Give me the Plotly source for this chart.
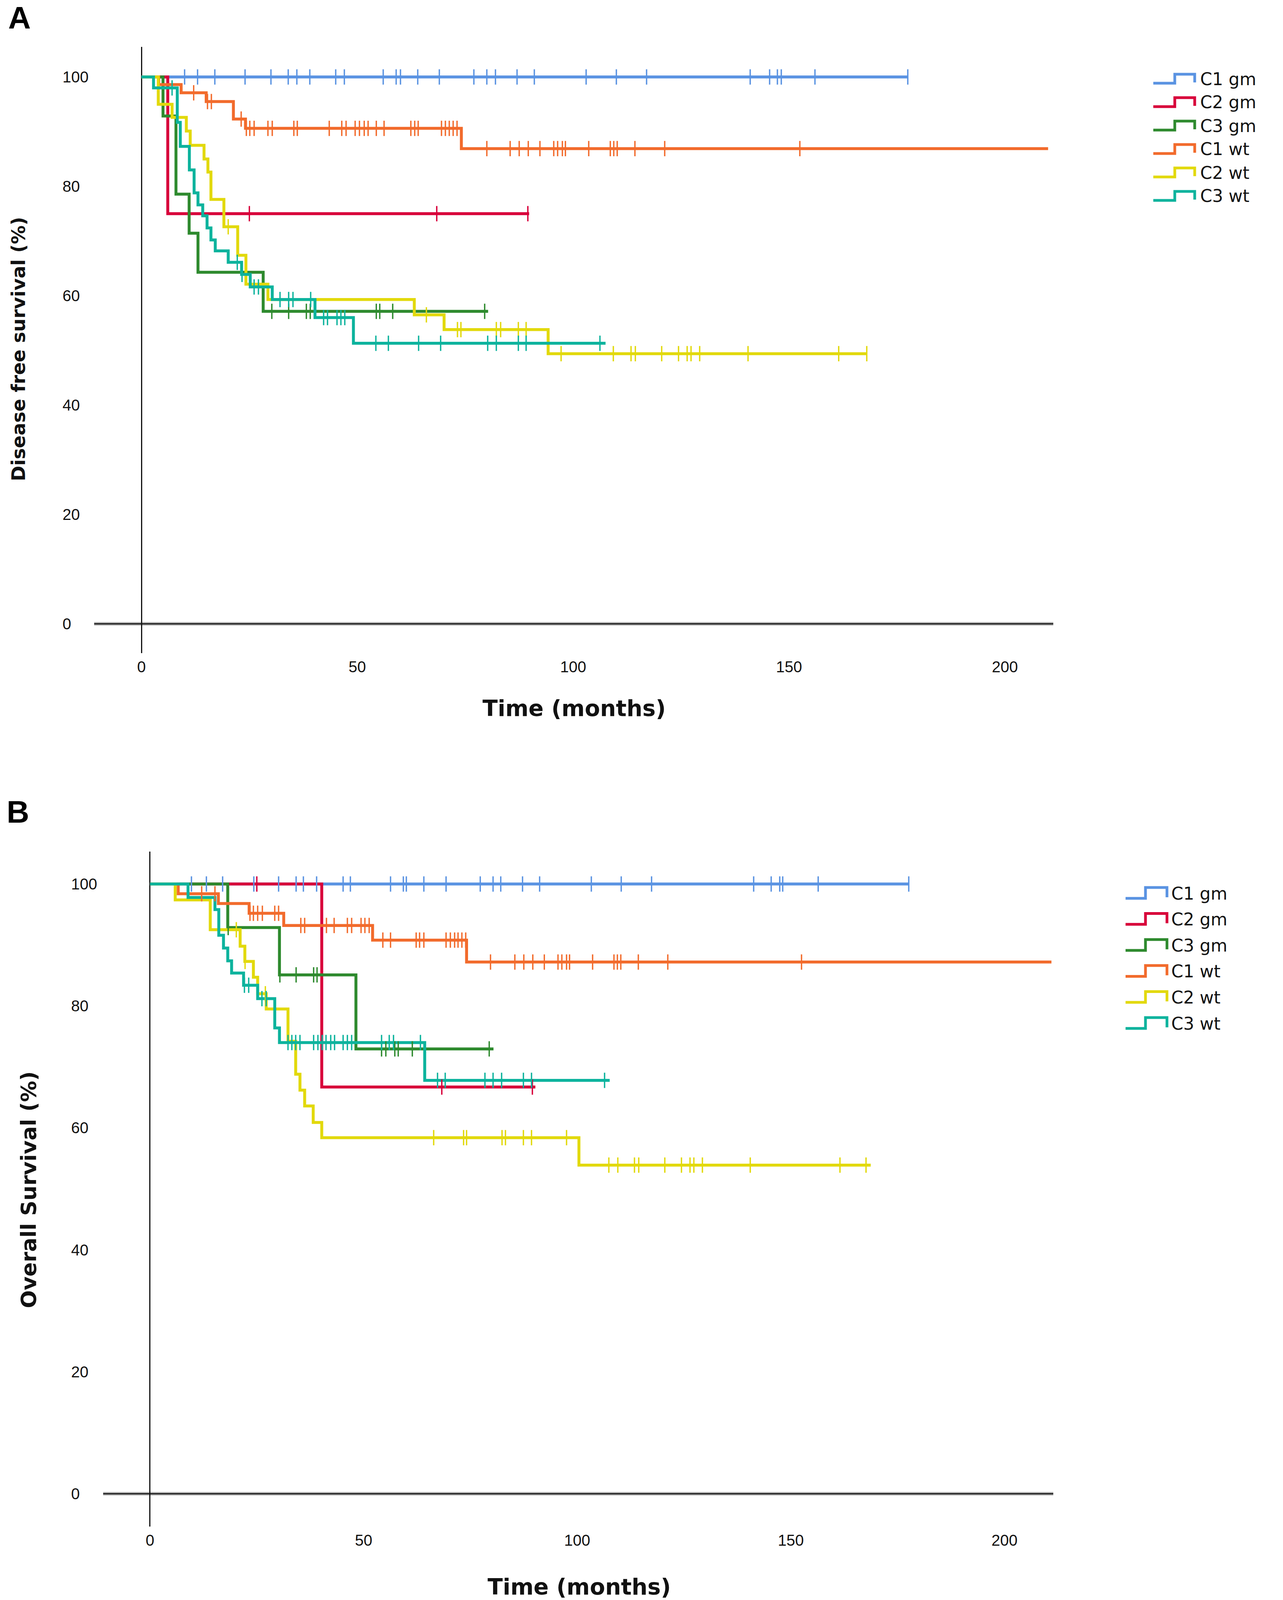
import numpy as np
import plotly.graph_objects as go

W, H = 3284, 4103

# ---------------- data ----------------
series_names = ["C1 gm", "C2 gm", "C3 gm", "C1 wt", "C2 wt", "C3 wt"]
series_colors = ["#5a93e2", "#d8003a", "#2e8a2e", "#f26b2c", "#e2d90c", "#0db39d"]

x_tick_vals = [0, 50, 100, 150, 200]
x_tick_text = ["0", "50", "100", "150", "200"]
y_tick_vals = [0, 20, 40, 60, 80, 100]
y_tick_text = ["0", "20", "40", "60", "80", "100"]

# Panel A - disease free survival (step times, survival %, censor times)
dfs_c1gm_t = [0, 177.5]
dfs_c1gm_s = [100, 100]
dfs_c1gm_c = [10, 13, 17, 24, 30, 34, 36, 39, 45, 47, 56, 59, 60, 64, 69, 77, 80, 82,
              87, 91, 103, 110, 117, 141, 145.5, 147.3, 148.2, 156, 177.5]

dfs_c2gm_t = [0, 6.1, 89.8]
dfs_c2gm_s = [100, 75, 75]
dfs_c2gm_c = [25, 68.4, 89.5]

dfs_c3gm_t = [0, 5.0, 8.0, 11.05, 13.1, 28.2, 80.3]
dfs_c3gm_s = [100, 92.86, 78.57, 71.43, 64.29, 57.14, 57.14]
dfs_c3gm_c = [30.2, 34.1, 38.2, 39.1, 54.4, 55.2, 58.2, 79.5]

dfs_c1wt_t = [0, 4.0, 9.2, 15.0, 21.3, 24.1, 74.1, 210]
dfs_c1wt_s = [100, 98.6, 97.1, 95.5, 92.3, 90.6, 86.9, 86.9]
dfs_c1wt_c = [12.1, 15.3, 16.2, 23.1, 24.3, 25.1, 26.1, 29.3, 30.3, 35.3, 36.1, 43.5, 46.4,
              47.4, 49.5, 50.5, 51.6, 52.5, 54.4, 56.2, 62.4, 63.3, 64.1, 69.5, 70.4, 71.3,
              72.2, 73.1, 80.0, 85.4, 87.5, 89.6, 92.3, 95.5, 96.4, 97.5, 98.2, 103.6,
              108.6, 109.4, 110.2, 114.3, 121.2, 152.5]

dfs_c2wt_t = [0, 3.9, 7.1, 10.4, 11.3, 14.5, 15.4, 16.1, 19.1, 22.3, 24.2, 29.3, 63.2,
              70.1, 94.2, 168.1]
dfs_c2wt_s = [100, 95.0, 92.6, 90.1, 87.5, 85.0, 82.6, 77.6, 72.6, 67.4, 62.1, 59.3, 56.5,
              53.8, 49.4, 49.4]
dfs_c2wt_c = [20.1, 66.0, 73.2, 74.0, 82.2, 83.2, 87.3, 89.1, 97.2, 109.3, 113.4, 114.4,
              120.5, 124.4, 126.4, 127.3, 129.3, 140.5, 161.5, 168.0]

dfs_c3wt_t = [0, 2.8, 8.3, 9.0, 11.1, 12.2, 13.1, 14.2, 15.2, 16.1, 17.1, 20.1, 23.2, 25.2,
              30.3, 40.2, 49.1, 107.5]
dfs_c3wt_s = [100, 98.0, 91.7, 87.3, 83.0, 78.8, 76.6, 74.6, 72.4, 70.2, 68.2, 66.1, 63.9,
              61.6, 59.3, 56.0, 51.3, 51.3]
dfs_c3wt_c = [7.1, 22.2, 23.3, 26.1, 27.1, 32.1, 34.1, 35.1, 39.2, 42.2, 43.1, 45.3, 46.2,
              47.1, 54.3, 57.2, 64.2, 69.3, 80.2, 82.2, 87.3, 89.1, 106.2]

# Panel B - overall survival
os_c1gm_t = [0, 177.6]
os_c1gm_s = [100, 100]
os_c1gm_c = [9.7, 13.2, 17.0, 24.3, 30.1, 34.2, 35.9, 39.0, 45.2, 46.9, 56.3, 59.3, 60.0,
             64.1, 69.3, 77.3, 80.3, 82.1, 87.2, 91.2, 103.3, 110.3, 117.4, 141.3, 145.4,
             147.4, 148.1, 156.4, 177.6]

os_c2gm_t = [0, 40.2, 90.2]
os_c2gm_s = [100, 66.7, 66.7]
os_c2gm_c = [25.0, 68.3, 89.5]

os_c3gm_t = [0, 18.2, 30.3, 48.2, 80.4]
os_c3gm_s = [100, 92.86, 85.1, 72.96, 72.96]
os_c3gm_c = [18.3, 30.4, 34.2, 38.3, 39.1, 54.2, 55.2, 57.3, 58.1, 61.4, 79.4]

os_c1wt_t = [0, 6.6, 16.0, 23.2, 31.3, 52.1, 74.1, 211]
os_c1wt_s = [100, 98.4, 96.8, 95.2, 93.2, 90.8, 87.2, 87.2]
os_c1wt_c = [12.1, 15.2, 23.4, 24.2, 25.2, 26.3, 29.2, 30.1, 35.3, 36.2, 41.3, 43.1, 46.2,
             47.2, 49.4, 50.3, 51.3, 54.5, 56.3, 62.3, 63.1, 64.1, 69.3, 70.3, 71.3, 72.1,
             73.0, 73.9, 79.7, 85.4, 87.5, 89.6, 92.3, 95.5, 96.4, 97.5, 98.2, 103.6,
             108.6, 109.4, 110.2, 114.3, 121.2, 152.5]

os_c2wt_t = [0, 5.9, 14.1, 21.1, 22.2, 24.2, 25.2, 27.2, 32.3, 34.1, 35.1, 36.2, 38.2,
             40.2, 100.4, 168.7]
os_c2wt_s = [100, 97.4, 92.5, 89.8, 87.3, 84.7, 82.0, 79.5, 74.2, 68.8, 66.2, 63.6, 60.9,
             58.4, 53.9, 53.9]
os_c2wt_c = [20.2, 22.25, 27.0, 66.4, 73.4, 74.1, 82.4, 83.2, 87.4, 89.3, 97.5, 107.4,
             109.5, 113.4, 114.4, 120.5, 124.4, 126.4, 127.3, 129.3, 140.5, 161.5, 167.6]

os_c3wt_t = [0, 8.9, 15.2, 16.1, 17.2, 18.2, 19.1, 21.9, 25.2, 29.2, 30.3, 64.3, 107.6]
os_c3wt_s = [100, 97.8, 95.8, 91.6, 89.5, 87.4, 85.4, 83.4, 81.2, 76.4, 74.0, 67.8, 67.8]
os_c3wt_c = [22.1, 23.1, 26.2, 27.2, 32.3, 33.2, 34.1, 35.1, 38.3, 39.3, 40.3, 41.2, 42.3,
             43.2, 45.2, 46.2, 47.2, 54.2, 56.0, 57.0, 63.3, 67.3, 69.1, 78.4, 80.3, 82.3,
             87.4, 89.3, 106.4]

panel_a = [(dfs_c1gm_t, dfs_c1gm_s, dfs_c1gm_c), (dfs_c2gm_t, dfs_c2gm_s, dfs_c2gm_c),
           (dfs_c3gm_t, dfs_c3gm_s, dfs_c3gm_c), (dfs_c1wt_t, dfs_c1wt_s, dfs_c1wt_c),
           (dfs_c2wt_t, dfs_c2wt_s, dfs_c2wt_c), (dfs_c3wt_t, dfs_c3wt_s, dfs_c3wt_c)]
panel_b = [(os_c1gm_t, os_c1gm_s, os_c1gm_c), (os_c2gm_t, os_c2gm_s, os_c2gm_c),
           (os_c3gm_t, os_c3gm_s, os_c3gm_c), (os_c1wt_t, os_c1wt_s, os_c1wt_c),
           (os_c2wt_t, os_c2wt_s, os_c2wt_c), (os_c3wt_t, os_c3wt_s, os_c3wt_c)]

# ---------------- layout geometry (pixels) ----------------
LINE_W = 7.5
TICK_SIZE = 28
FONT_NUM = "Liberation Sans, Arial, sans-serif"
FONT_TXT = "DejaVu Sans, Liberation Sans, Arial, sans-serif"


def px_x(p):
    return p / W


def px_y(p):
    return 1 - p / H


def surv_at(times, surv, t):
    idx = np.searchsorted(np.asarray(times), t, side="right") - 1
    return float(np.asarray(surv)[max(idx, 0)])


fig = go.Figure()

for data, xa, ya in [(panel_a, "x", "y"), (panel_b, "x2", "y2")]:
    for (t, s, c), name, col in zip(data, series_names, series_colors):
        fig.add_trace(go.Scatter(
            x=t, y=s, mode="lines", line=dict(color=col, width=LINE_W, shape="hv"),
            name=name, showlegend=False, xaxis=xa, yaxis=ya, hoverinfo="skip"))
    for (t, s, c), name, col in zip(data, series_names, series_colors):
        fig.add_trace(go.Scatter(
            x=c, y=[surv_at(t, s, ci) for ci in c], mode="markers",
            marker=dict(symbol="line-ns", size=TICK_SIZE, color=col,
                        line=dict(color=col, width=3.5)),
            name=name + " censored", showlegend=False, xaxis=xa, yaxis=ya,
            hoverinfo="skip"))

axis_common = dict(showgrid=False, showline=False, ticks="", zeroline=False)

fig.update_layout(
    width=W, height=H, margin=dict(l=0, r=0, t=0, b=0),
    paper_bgcolor="white", plot_bgcolor="white", showlegend=False,
    xaxis=dict(domain=[px_x(241), px_x(2696)], range=[-10.95, 211.2], anchor="y",
               zeroline=True, zerolinecolor="#111111", zerolinewidth=3,
               showgrid=False, showline=False, ticks="", ticklabelstandoff=8,
               tickvals=x_tick_vals, ticktext=x_tick_text,
               tickfont=dict(family=FONT_NUM, size=40, color="#111111")),
    yaxis=dict(domain=[px_y(1672), px_y(120)], range=[-5.36, 105.5], anchor="x",
               showticklabels=False, **axis_common),
    xaxis2=dict(domain=[px_x(264), px_x(2696)], range=[-10.97, 211.43], anchor="y2",
                zeroline=True, zerolinecolor="#111111", zerolinewidth=3,
                showgrid=False, showline=False, ticks="", ticklabelstandoff=8,
                tickvals=x_tick_vals, ticktext=x_tick_text,
                tickfont=dict(family=FONT_NUM, size=40, color="#111111")),
    yaxis2=dict(domain=[px_y(3908), px_y(2180)], range=[-5.38, 105.32], anchor="x2",
                showticklabels=False, **axis_common),
)

shapes = []
annotations = []

# horizontal axis baseline (grey shadow + black line) at survival 0
for xa, ya in [("x", "y"), ("x2", "y2")]:
    shapes.append(dict(type="line", xref=xa + " domain", yref=ya, x0=0, x1=1, y0=0, y1=0,
                       line=dict(color="#b4b4b4", width=9), layer="below"))
    shapes.append(dict(type="line", xref=xa + " domain", yref=ya, x0=0, x1=1, y0=0, y1=0,
                       line=dict(color="#111111", width=3), layer="below"))

# y tick labels (left aligned, as in the original)
for ya, xleft in [("y", 158), ("y2", 180)]:
    for v, txt in zip(y_tick_vals, y_tick_text):
        annotations.append(dict(text=txt, xref="paper", yref=ya, x=px_x(xleft), y=v,
                                xanchor="left", yanchor="middle", showarrow=False,
                                font=dict(family=FONT_NUM, size=40, color="#111111")))

# axis titles and panel letters
annotations += [
    dict(text="<b>Time (months)</b>", xref="paper", yref="paper", x=px_x(1469),
         y=px_y(1813), xanchor="center", yanchor="middle", showarrow=False,
         font=dict(family=FONT_TXT, size=57, color="#111111")),
    dict(text="<b>Time (months)</b>", xref="paper", yref="paper", x=px_x(1482),
         y=px_y(4062), xanchor="center", yanchor="middle", showarrow=False,
         font=dict(family=FONT_TXT, size=57, color="#111111")),
    dict(text="<b>Disease free survival (%)</b>", xref="paper", yref="paper", x=px_x(47),
         y=px_y(894), xanchor="center", yanchor="middle", showarrow=False, textangle=-90,
         font=dict(family=FONT_TXT, size=48, color="#111111")),
    dict(text="<b>Overall Survival (%)</b>", xref="paper", yref="paper", x=px_x(73),
         y=px_y(3046), xanchor="center", yanchor="middle", showarrow=False, textangle=-90,
         font=dict(family=FONT_TXT, size=54, color="#111111")),
    dict(text="<b>A</b>", xref="paper", yref="paper", x=px_x(50), y=1,
         xanchor="center", yanchor="top", showarrow=False, borderpad=0,
         font=dict(family=FONT_NUM, size=80, color="#000000")),
    dict(text="<b>B</b>", xref="paper", yref="paper", x=px_x(46), y=px_y(2078),
         xanchor="center", yanchor="middle", showarrow=False,
         font=dict(family=FONT_NUM, size=80, color="#000000")),
]

# manual legends with step-shaped symbols
legend_specs = [
    # first row centre, row step, icon left, icon step, icon right, lo, hi, tail, text x, font
    (202, 60, 2952, 3007, 3058, 11, -12, 9, 3070, 44),
    (2287, 66.6, 2881, 2932, 2987, 12.7, -15, 10, 2996, 44),
]
for (y0, dy, xl, xs, xr, lo, hi, tail, xt, fs) in legend_specs:
    for i, (name, col) in enumerate(zip(series_names, series_colors)):
        yc = y0 + i * dy
        path = (f"M {px_x(xl)},{px_y(yc + lo)} L {px_x(xs)},{px_y(yc + lo)} "
                f"L {px_x(xs)},{px_y(yc + hi)} L {px_x(xr)},{px_y(yc + hi)} "
                f"L {px_x(xr)},{px_y(yc + tail)}")
        shapes.append(dict(type="path", xref="paper", yref="paper", path=path,
                           line=dict(color=col, width=7)))
        annotations.append(dict(text=name, xref="paper", yref="paper", x=px_x(xt),
                                y=px_y(yc), xanchor="left", yanchor="middle",
                                showarrow=False,
                                font=dict(family=FONT_TXT, size=fs, color="#111111")))

fig.update_layout(shapes=shapes, annotations=annotations)

# remove the default page margin so the figure sits at the top-left corner
fig.write_html("out.html",
               config={"displayModeBar": False},
               post_script="document.body.style.margin='0';"
                           "document.body.style.overflow='hidden';")
